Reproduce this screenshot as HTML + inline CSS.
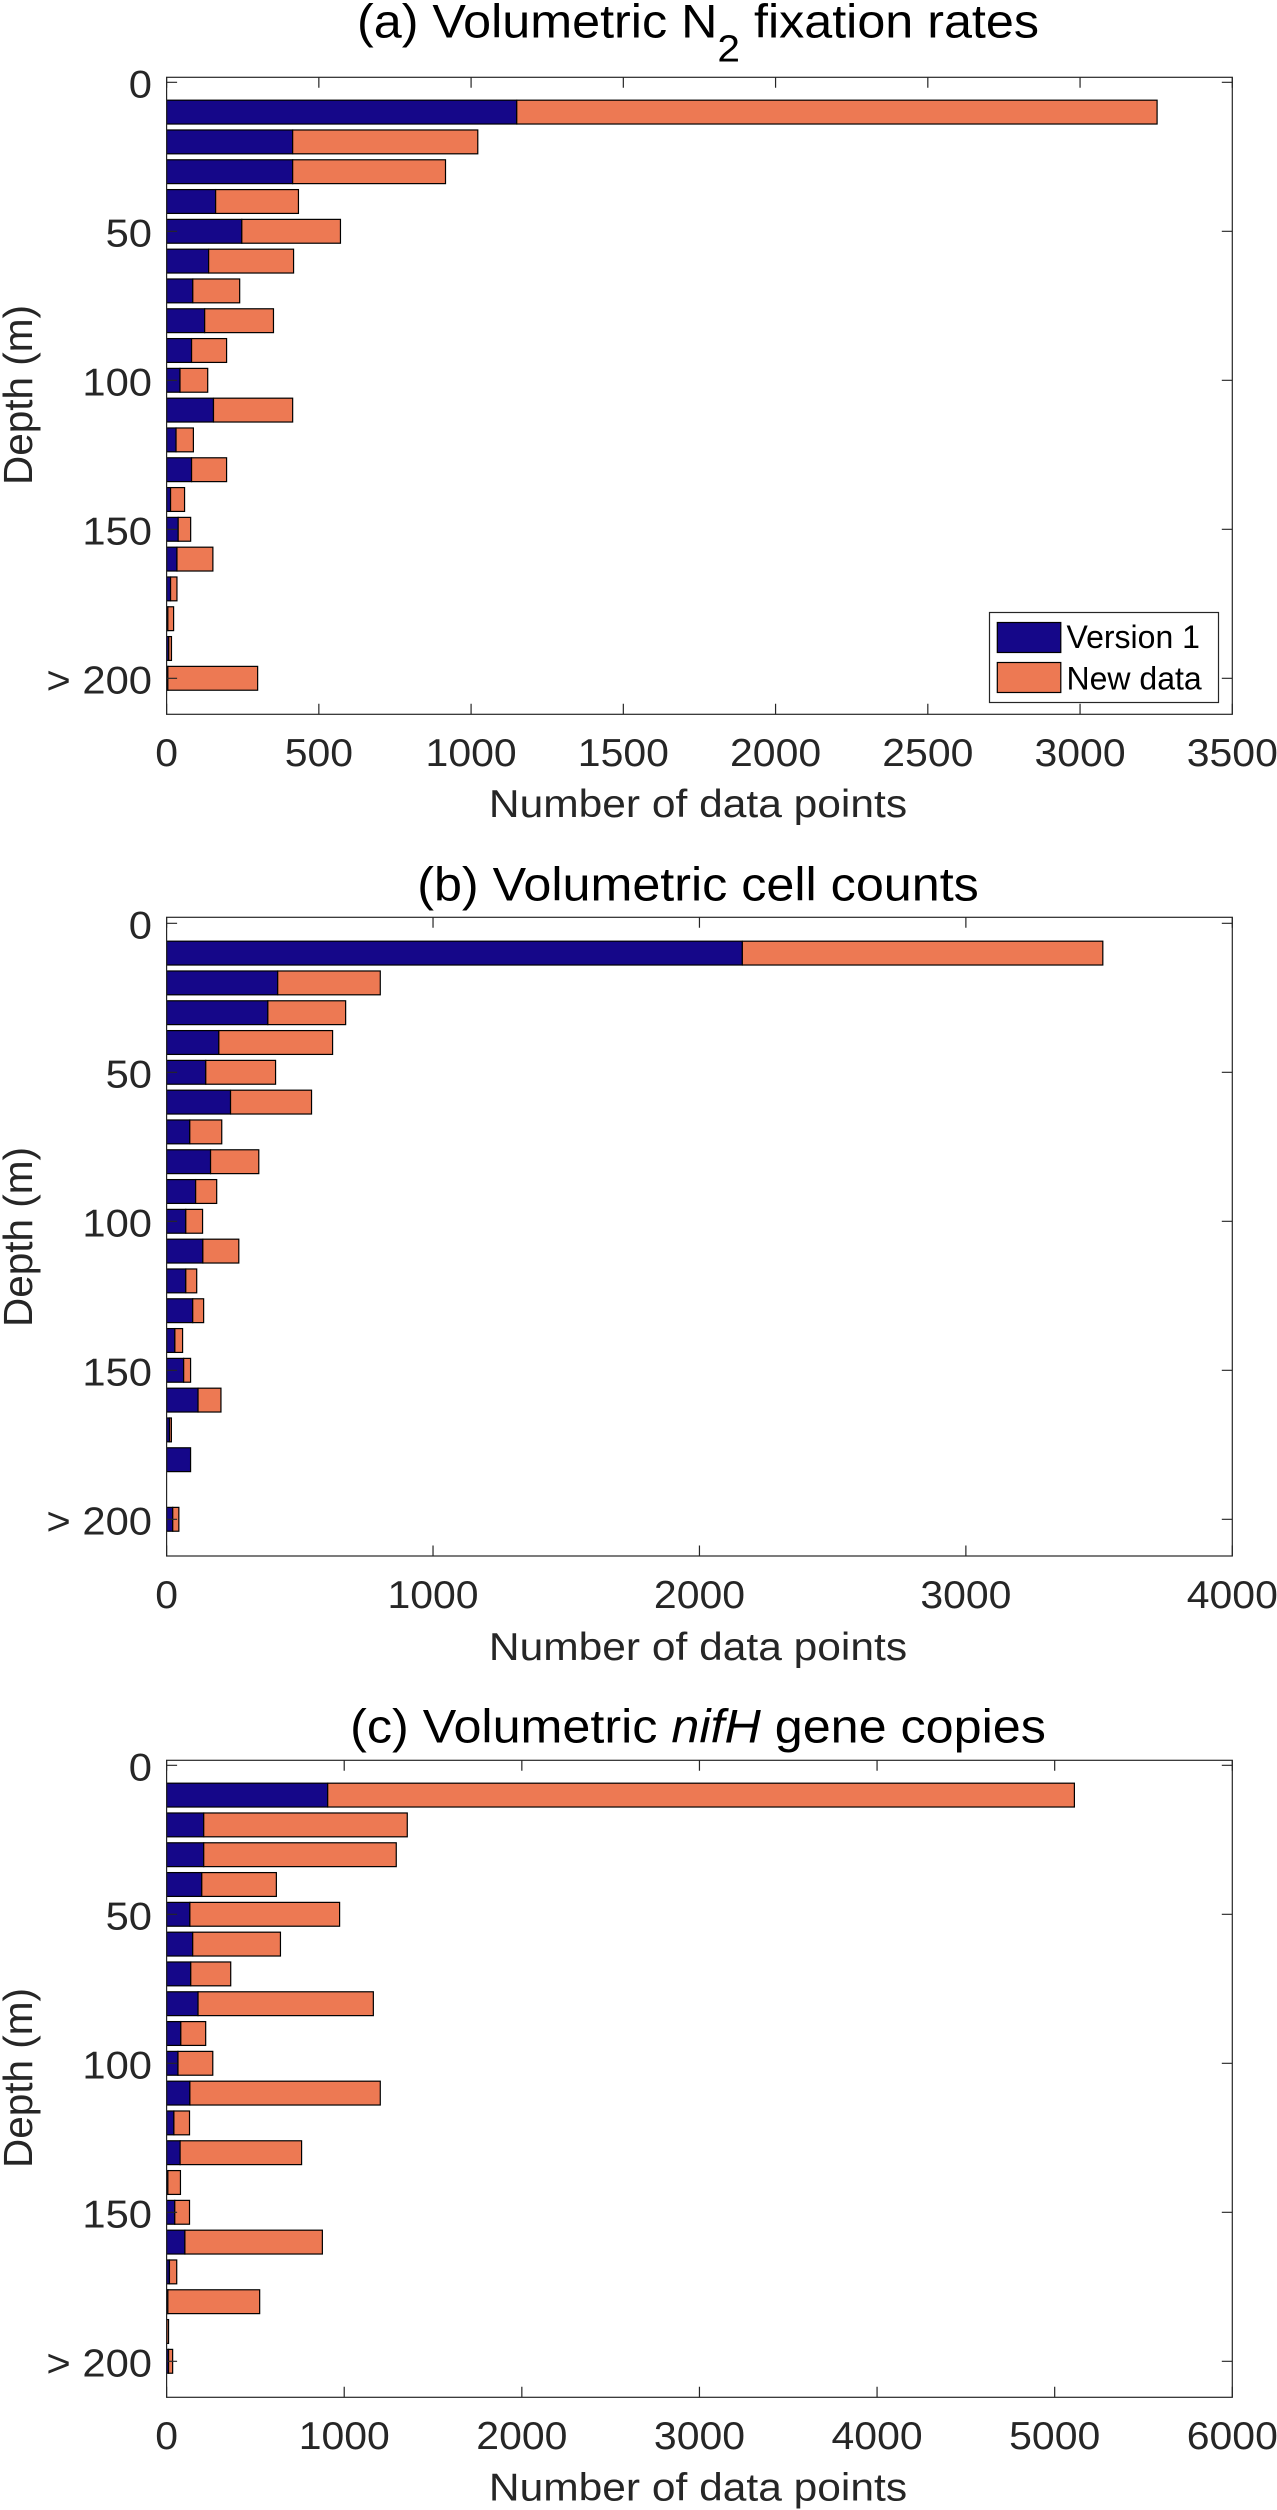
<!DOCTYPE html>
<html lang="en">
<head>
<meta charset="utf-8">
<title>Data points by depth</title>
<style>
  html, body { margin: 0; padding: 0; background: #ffffff; }
  svg { display: block; font-family: "Liberation Sans", sans-serif; }
</style>
</head>
<body>
<svg id="figure" xmlns="http://www.w3.org/2000/svg" width="1277" height="2510" viewBox="0 0 1277 2510">
  <rect x="0" y="0" width="1277" height="2510" fill="#ffffff"/>

  <g id="panel-a"></g>
  <g id="panel-b"></g>
  <g id="panel-c"></g>

  <text transform="translate(698,37.3) scale(1.07,1)" text-anchor="middle" font-size="47" fill="#000000">(a) Volumetric N<tspan dy="24" font-size="38">2</tspan><tspan dy="-24"> fixation rates</tspan></text>
  <text transform="translate(698,900.7) scale(1.07,1)" text-anchor="middle" font-size="47" fill="#000000">(b) Volumetric cell counts</text>
  <text transform="translate(698,1742.3) scale(1.07,1)" text-anchor="middle" font-size="47" fill="#000000">(c) Volumetric <tspan font-style="italic">nifH</tspan> gene copies</text>

  <g>
    <rect x="989.5" y="612.5" width="229" height="90" fill="#ffffff" stroke="#262626" stroke-width="1.2"/>
    <rect x="997.3" y="622.5" width="63.5" height="30" fill="#150789" stroke="#000000" stroke-width="1.2"/>
    <text x="1066.5" y="648" font-size="32" fill="#000000">Version 1</text>
    <rect x="997.3" y="662.5" width="63.5" height="30" fill="#ed7953" stroke="#000000" stroke-width="1.2"/>
    <text x="1066.5" y="689.5" font-size="32" fill="#000000">New data</text>
  </g>
</svg>

<script>
// Shared category axis
const depths = [10, 20, 30, 40, 50, 60, 70, 80, 90, 100, 110, 120, 130, 140, 150, 160, 170, 180, 190, 200];
const depthTicks = [0, 50, 100, 150, 200];
const depthTickLabels = ['0', '50', '100', '150', '> 200'];

// Panel (a) Volumetric N2 fixation rates
const fixationVersion1 = [1150, 414, 414, 161, 247, 138, 86, 125, 82, 44, 154, 31, 82, 13, 38, 34, 13, 4, 7, 4];
const fixationNewData = [2103, 608, 502, 272, 324, 279, 154, 226, 115, 91, 260, 57, 115, 46, 41, 118, 21, 19, 9, 295];
const fixationTicks = [0, 500, 1000, 1500, 2000, 2500, 3000, 3500];
const fixationTickLabels = ['0', '500', '1000', '1500', '2000', '2500', '3000', '3500'];

// Panel (b) Volumetric cell counts
const cellVersion1 = [2161, 417, 380, 196, 147, 240, 87, 165, 109, 72, 136, 72, 98, 31, 64, 118, 11, 90, 0, 23];
const cellNewData = [1353, 385, 292, 427, 262, 304, 120, 181, 79, 63, 135, 41, 41, 29, 26, 86, 7, 0, 0, 23];
const cellTicks = [0, 1000, 2000, 3000, 4000];
const cellTickLabels = ['0', '1000', '2000', '3000', '4000'];

// Panel (c) Volumetric nifH gene copies
const nifhVersion1 = [907, 209, 209, 198, 131, 147, 136, 177, 80, 64, 131, 41, 76, 7, 46, 103, 16, 7, 1, 11];
const nifhNewData = [4204, 1146, 1084, 420, 843, 494, 225, 987, 140, 196, 1072, 88, 684, 71, 83, 774, 41, 517, 10, 23];
const nifhTicks = [0, 1000, 2000, 3000, 4000, 5000, 6000];
const nifhTickLabels = ['0', '1000', '2000', '3000', '4000', '5000', '6000'];

const SVG_NS = 'http://www.w3.org/2000/svg';
const INK = '#262626';
const PLOT_LEFT = 166.6;
const PLOT_RIGHT = 1232.3;
const TICK_LEN = 10.5;
const DEPTH_STEP = 2.98;
const BAR_THICK = 23.84;

function make(tag, parent, attrs, text) {
  const el = document.createElementNS(SVG_NS, tag);
  for (const k in attrs) el.setAttribute(k, attrs[k]);
  if (text !== undefined) el.textContent = text;
  parent.appendChild(el);
  return el;
}

function drawPanel(group, frame, v1, added, xTicks, xTickLabels) {
  const xMax = xTicks[xTicks.length - 1];
  const xScale = function (v) { return PLOT_LEFT + (v / xMax) * (PLOT_RIGHT - PLOT_LEFT); };
  const yScale = function (d) { return frame.zeroY + d * DEPTH_STEP; };

  depths.forEach(function (d, i) {
    const cy = yScale(d);
    const top = cy - BAR_THICK / 2;
    if (v1[i] > 0) {
      const blue = make('rect', group, { x: xScale(0), y: top, width: xScale(v1[i]) - xScale(0), height: BAR_THICK, fill: '#150789', stroke: '#000000', 'stroke-width': 1.2 });
      
      
    }
    if (added[i] > 0) {
      const orange = make('rect', group, { x: xScale(v1[i]), y: top, width: xScale(v1[i] + added[i]) - xScale(v1[i]), height: BAR_THICK, fill: '#ed7953', stroke: '#000000', 'stroke-width': 1.2 });
      
      
    }
  });

  const box = make('rect', group, { x: PLOT_LEFT, y: frame.top, width: PLOT_RIGHT - PLOT_LEFT, height: frame.bottom - frame.top, fill: 'none', stroke: INK, 'stroke-width': 1.2 });
  
  

  xTicks.forEach(function (t, i) {
    const x = xScale(t);
    const path = 'M' + x + ' ' + frame.bottom + 'V' + (frame.bottom - TICK_LEN) + 'M' + x + ' ' + frame.top + 'V' + (frame.top + TICK_LEN);
    const tick = make('path', group, { d: path, stroke: INK, 'stroke-width': 1.2, fill: 'none' });
    
    
    const label = make('text', group, { transform: 'translate(' + x + ',' + frame.xLabelY + ') scale(1.05,1)', 'text-anchor': 'middle', 'font-size': 39, fill: INK }, xTickLabels[i]);
    
    
  });

  depthTicks.forEach(function (t, i) {
    const y = yScale(t);
    const path = 'M' + PLOT_LEFT + ' ' + y + 'H' + (PLOT_LEFT + TICK_LEN) + 'M' + PLOT_RIGHT + ' ' + y + 'H' + (PLOT_RIGHT - TICK_LEN);
    const tick = make('path', group, { d: path, stroke: INK, 'stroke-width': 1.2, fill: 'none' });
    
    
    const label = make('text', group, { transform: 'translate(152,' + (y + 15) + ') scale(1.07,1)', 'text-anchor': 'end', 'font-size': 39, fill: INK }, depthTickLabels[i]);
    
    
  });

  const xTitle = make('text', group, { transform: 'translate(698,' + frame.xTitleY + ') scale(1.09,1)', 'text-anchor': 'middle', 'font-size': 39, fill: INK }, 'Number of data points');
  
  

  const yTitle = make('text', group, { transform: 'translate(32,' + frame.yTitleMid + ') rotate(-90)', 'text-anchor': 'middle', 'font-size': 40.5, fill: INK }, 'Depth (m)');
  
  
}

drawPanel(document.getElementById('panel-a'),
  { top: 77.3, bottom: 714.3, zeroY: 82.3, xLabelY: 766, xTitleY: 817, yTitleMid: 395 },
  fixationVersion1, fixationNewData, fixationTicks, fixationTickLabels);
drawPanel(document.getElementById('panel-b'),
  { top: 917.3, bottom: 1556, zeroY: 923.3, xLabelY: 1608, xTitleY: 1660, yTitleMid: 1237 },
  cellVersion1, cellNewData, cellTicks, cellTickLabels);
drawPanel(document.getElementById('panel-c'),
  { top: 1760.3, bottom: 2397.3, zeroY: 1765.3, xLabelY: 2449, xTitleY: 2500.7, yTitleMid: 2078 },
  nifhVersion1, nifhNewData, nifhTicks, nifhTickLabels);
</script>
</body>
</html>
